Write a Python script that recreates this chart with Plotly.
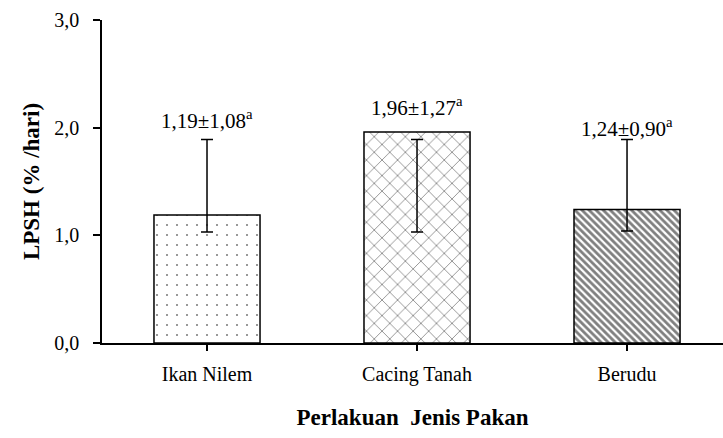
import plotly.graph_objects as go

categories = ["Ikan Nilem", "Cacing Tanah", "Berudu"]
means = [1.19, 1.96, 1.24]
sds = [1.08, 1.27, 0.90]
letters = ["a", "a", "a"]
err_low = [1.03, 1.03, 1.04]
err_high = [1.89, 1.89, 1.89]
y_ticks = [0, 1, 2, 3]

patterns = [".", "x", "\\"]
pat_sizes = [10, 11, 5]
pat_solid = [0.035, 0.14, 0.55]

font_family = "Liberation Serif, Times New Roman, serif"

fig = go.Figure()
for i, c in enumerate(categories):
    fig.add_trace(go.Bar(
        x=[c], y=[means[i]], width=0.505,
        marker=dict(color="white", line=dict(color="black", width=1.5),
                    pattern=dict(shape=patterns[i], size=pat_sizes[i], solidity=pat_solid[i],
                                 fgcolor="black", bgcolor="white")),
        showlegend=False, hoverinfo="skip"))

fig.add_trace(go.Scatter(
    x=categories, y=err_high, mode="markers",
    marker=dict(size=1, color="rgba(0,0,0,0)"),
    error_y=dict(type="data", symmetric=False,
                 array=[0] * len(categories),
                 arrayminus=[h - l for h, l in zip(err_high, err_low)],
                 color="black", thickness=1.5, width=6),
    showlegend=False, hoverinfo="skip"))

label_offsets = [0.19, 0.24, 0.11]
label_bases = [err_high[0], means[1], err_high[2]]
for i, c in enumerate(categories):
    txt = f"{means[i]:.2f}±{sds[i]:.2f}".replace(".", ",") + f"<sup>{letters[i]}</sup>"
    fig.add_annotation(x=c, y=label_bases[i] + label_offsets[i], text=txt, showarrow=False,
                       font=dict(family=font_family, size=21, color="black"),
                       yanchor="middle", xanchor="center")

fig.update_layout(
    width=723, height=438,
    margin=dict(l=102, r=0, t=20, b=95, autoexpand=False),
    plot_bgcolor="white", paper_bgcolor="white",
    separators=",.",
    font=dict(family=font_family, size=20, color="black"),
    bargap=0.5,
    xaxis=dict(range=[-0.5, 2.457], showline=True, linecolor="black", linewidth=1.5,
               automargin=False,
               ticks="outside", ticklen=6, tickcolor="black", tickwidth=1.5,
               ticklabelstandoff=6,
               tickfont=dict(family=font_family, size=20),
               title=dict(text="<b>Perlakuan  Jenis Pakan</b>", standoff=24,
                          font=dict(family=font_family, size=23))),
    yaxis=dict(range=[0, 3], tickvals=y_ticks, tickformat=".1f", showline=True,
               automargin=False,
               linecolor="black", linewidth=1.5, showgrid=False, zeroline=False,
               ticks="outside", ticklen=7, tickcolor="black", tickwidth=1.5,
               ticklabelstandoff=10,
               tickfont=dict(family=font_family, size=20),
               title=dict(text="<b>LPSH (% /hari)</b>", standoff=8,
                          font=dict(family=font_family, size=23))),
)

fig.write_html("out.html", config={"displayModeBar": False},
               post_script="document.body.style.margin='0';")
